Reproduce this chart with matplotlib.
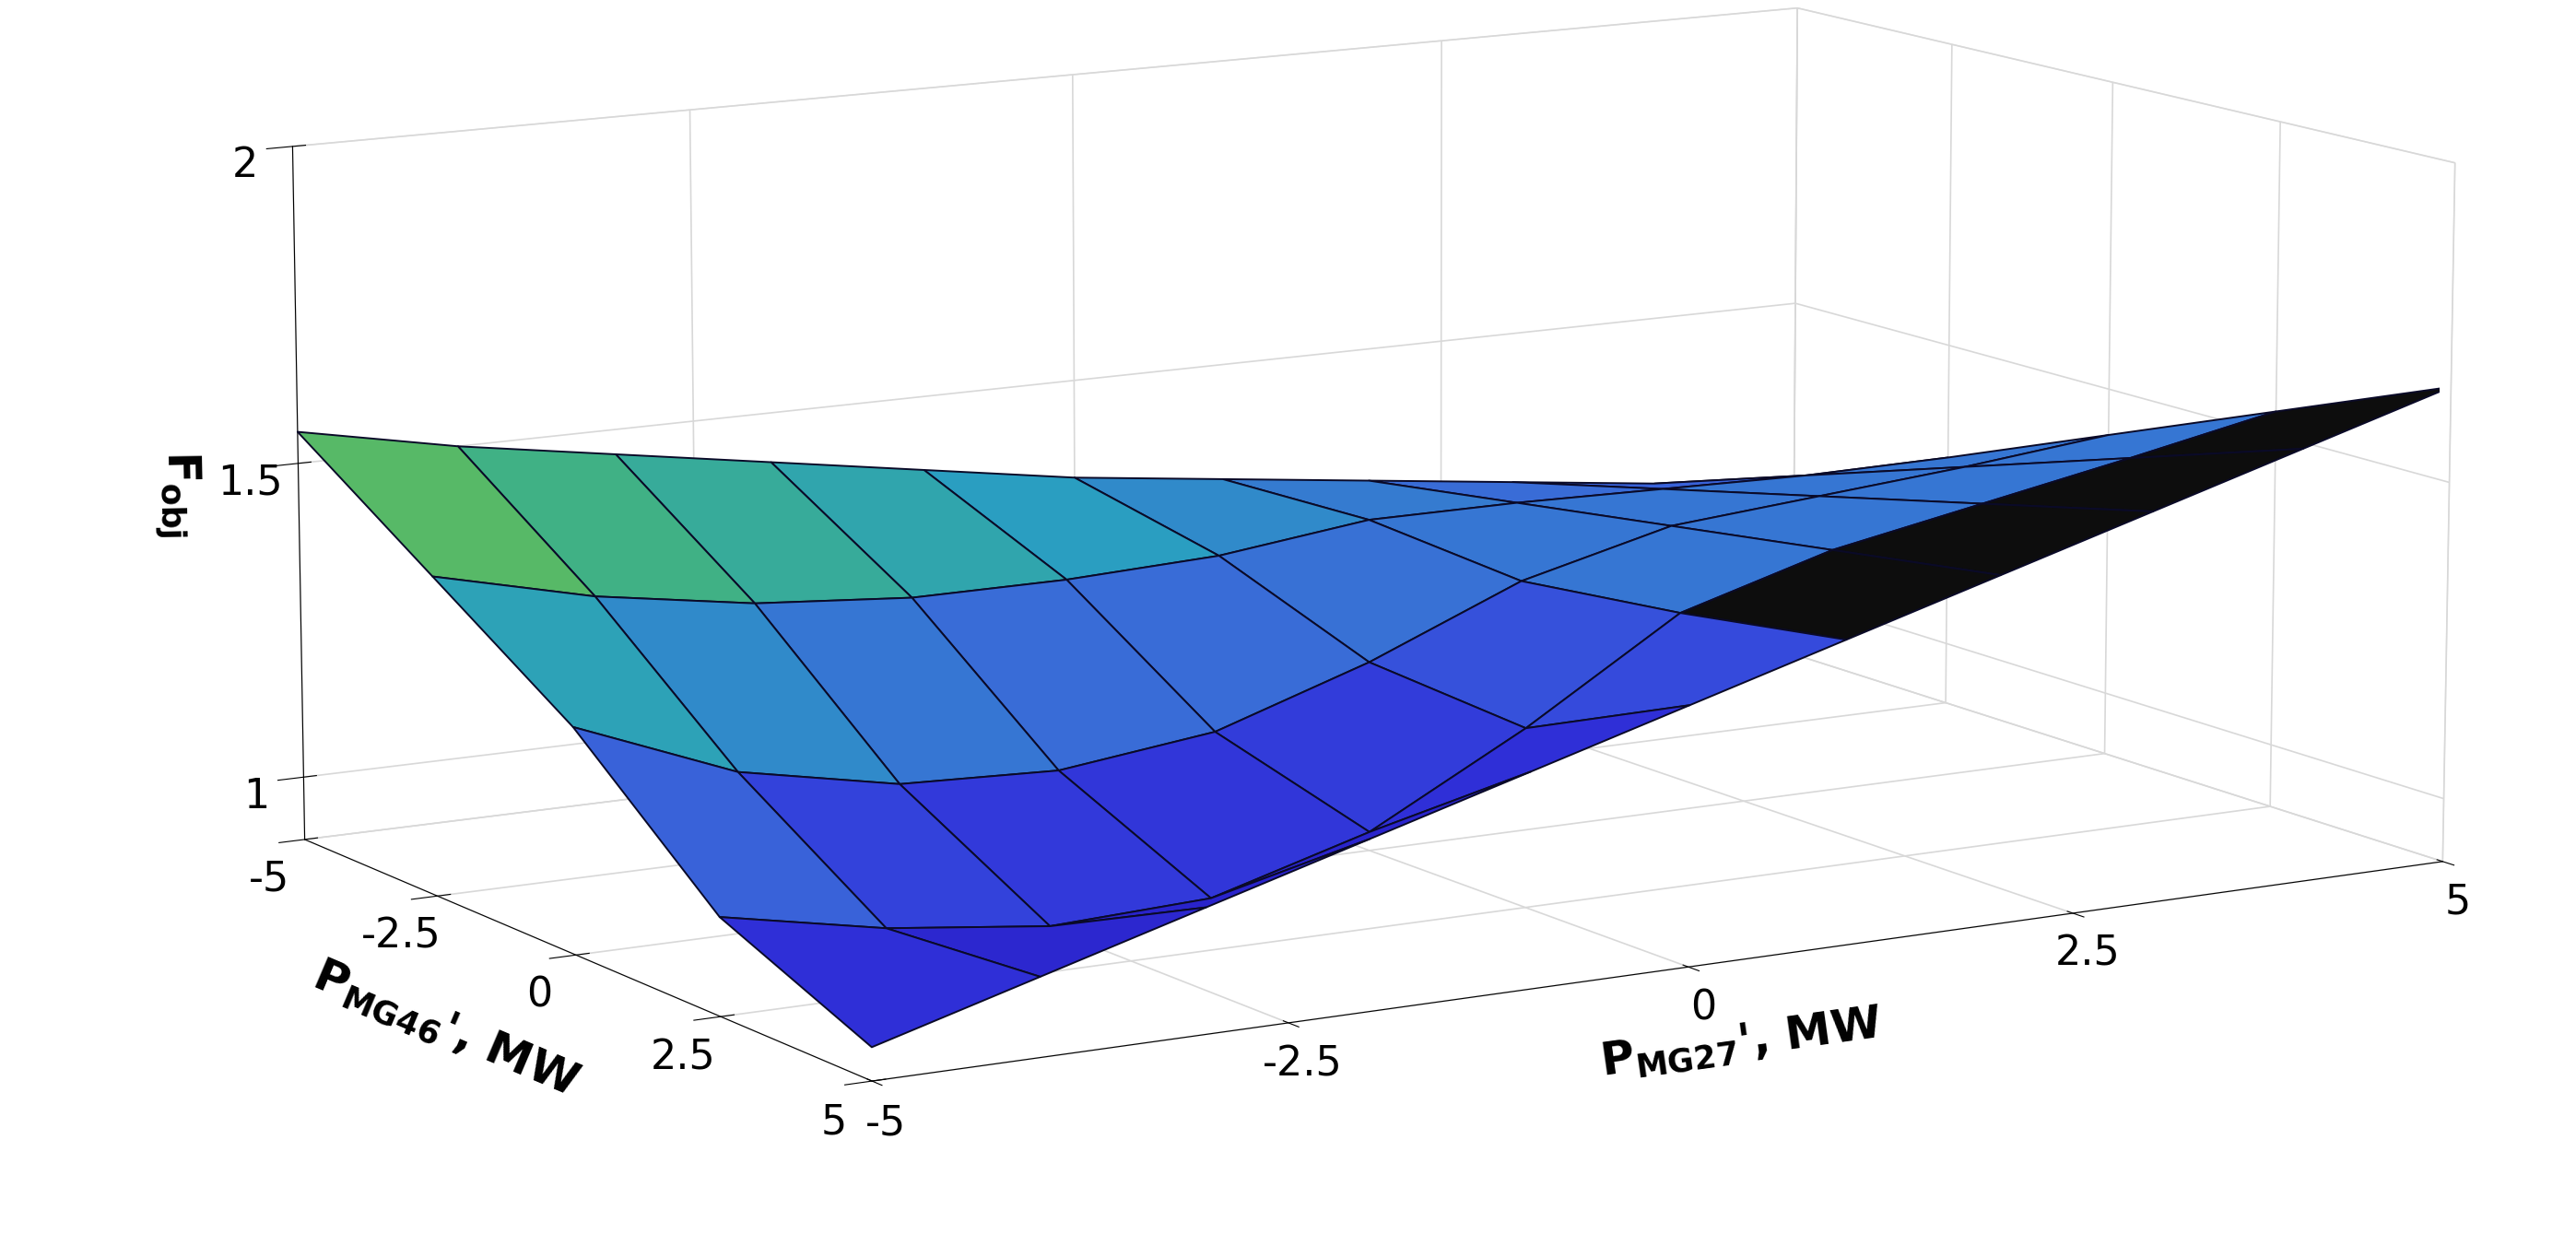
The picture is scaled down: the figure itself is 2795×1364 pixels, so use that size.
import numpy as np
import matplotlib
matplotlib.use("Agg")
import matplotlib.pyplot as plt
from matplotlib.colors import LinearSegmentedColormap

x_vals = [-5, -4, -3, -2, -1, 0, 1, 2, 3, 4, 5]
y_vals = [-5, -2.5, 0, 2.5, 5]
z_rows = [
    [1.55, 1.50, 1.46, 1.42, 1.38, 1.34, 1.31, 1.28, 1.25, 1.22, 1.20],
    [1.40, 1.34, 1.30, 1.28, 1.28, 1.29, 1.32, 1.32, 1.315, 1.31, 1.3125],
    [1.25, 1.15, 1.10, 1.09, 1.12, 1.20, 1.30, 1.36, 1.38, 1.40, 1.425],
    [1.05, 1.00, 0.97, 0.98, 1.05, 1.18, 1.33, 1.40, 1.445, 1.49, 1.5375],
    [0.95, 1.02, 1.09, 1.16, 1.23, 1.30, 1.37, 1.44, 1.51, 1.58, 1.65],
]
tick_vals = [-5, -2.5, 0, 2.5, 5]
tick_labels = ["-5", "-2.5", "0", "2.5", "5"]
z_ticks = [1, 1.5, 2]

X, Y = np.meshgrid(x_vals, y_vals)
Z = np.array(z_rows)

cmap = LinearSegmentedColormap.from_list("p", ["#2820c8", "#3030d8", "#3446dc", "#3a6ad8", "#2a9fc0", "#3cb08a", "#6cc04a"])
norm = plt.Normalize(0.95, 1.6)
colors = cmap(norm(Z))
# front-right strip seen nearly edge-on appears black in the reference
colors[3, 6:, :3] = 0.05
# right part of the surface is blue rather than green in the reference
colors[1:3, 6:] = cmap(norm(np.minimum(Z[1:3, 6:], 1.3)))

fig = plt.figure(figsize=(27.95, 13.64), dpi=100)
ax = fig.add_axes([-0.14, -0.30, 1.32, 1.75], projection="3d")
ax.plot_surface(X, Y, Z, facecolors=colors, shade=False, edgecolor="#0a0a28",
                linewidth=1.4, rstride=1, cstride=1, antialiased=True)
ax.set_xlim(-5, 5)
ax.set_ylim(5, -5)
ax.set_zlim(0.9, 2)
ax.set_xticks(tick_vals)
ax.set_xticklabels(tick_labels)
ax.set_yticks(tick_vals)
ax.set_yticklabels(tick_labels)
ax.set_zticks(z_ticks)
ax.set_zticklabels(["1", "1.5", "2"])
ax.tick_params(labelsize=32, pad=12)
for a in (ax.xaxis, ax.yaxis, ax.zaxis):
    a.pane.fill = False
    a.pane.set_edgecolor("#cccccc")
    a._axinfo["grid"]["color"] = "#d8d8d8"
    a._axinfo["grid"]["linewidth"] = 1.2
ax.set_box_aspect((2.4, 1.6, 0.95))
ax.view_init(elev=11, azim=-121)
ax.set_xlabel(r"$\mathbf{P_{MG27}}$', MW", fontsize=36, fontweight="bold", labelpad=50)
ax.set_ylabel(r"$\mathbf{P_{MG46}}$', MW", fontsize=36, fontweight="bold", labelpad=50)
ax.set_zlabel(r"$\mathbf{F_{obj}}$", fontsize=36, fontweight="bold", labelpad=30)
fig.savefig("out.png", dpi=100)
